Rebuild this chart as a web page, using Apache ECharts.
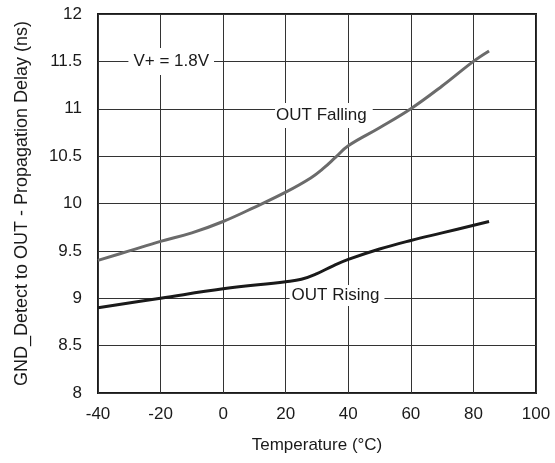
<!DOCTYPE html>
<html>
<head>
<meta charset="utf-8">
<script src="https://cdn.jsdelivr.net/npm/echarts@6/dist/echarts.min.js"></script>
<style>
html,body{margin:0;padding:0;background:#fff;}
#c{width:555px;height:463px;}
</style>
</head>
<body>
<div id="c"></div>
<script>
var fallingTemps = [-40, -30, -20, -10, 0, 10, 20, 28, 32, 36, 40, 50, 60, 70, 80, 85];
var outFalling = [9.4, 9.5, 9.6, 9.69, 9.81, 9.96, 10.12, 10.27, 10.37, 10.49, 10.61, 10.8, 11.0, 11.24, 11.5, 11.61];
var risingTemps = [-40, -20, 0, 20, 25, 30, 35, 40, 50, 60, 70, 85];
var outRising = [8.9, 9.0, 9.1, 9.175, 9.2, 9.26, 9.34, 9.41, 9.52, 9.61, 9.69, 9.81];
var xTicks = [-40, -20, 0, 20, 40, 60, 80, 100];
var yTicks = [8, 8.5, 9, 9.5, 10, 10.5, 11, 11.5, 12];
var annotations = [
  {text: 'V+ = 1.8V', x: -16.6, y: 11.5, pad: [5, 5, 5, 5]},
  {text: 'OUT Falling', x: 32.2, y: 10.93, pad: [5, 6, 3, 1]},
  {text: 'OUT Rising', x: 36.4, y: 9.03, pad: [2, 5, 2, 2]}
];

var font = 'Liberation Sans, Arial, Helvetica, sans-serif';
var chart = echarts.init(document.getElementById('c'), null, {renderer: 'canvas'});

function pairs(xs, ys){ return xs.map(function(x, i){ return [x, ys[i]]; }); }

var option = {
  animation: false,
  backgroundColor: '#fff',
  grid: {left: 98, right: 19, top: 14, bottom: 70, show: true, borderColor: '#1a1a1a', borderWidth: 2, backgroundColor: 'transparent'},
  xAxis: {
    type: 'value', min: xTicks[0], max: xTicks[xTicks.length-1], interval: 20,
    name: 'Temperature (°C)', nameLocation: 'middle', nameGap: 44,
    nameTextStyle: {fontFamily: font, fontSize: 17, color: '#1a1a1a'},
    axisLine: {show: false}, axisTick: {show: false},
    axisLabel: {fontFamily: font, fontSize: 17, color: '#1a1a1a', margin: 13},
    splitLine: {show: true, lineStyle: {color: '#333', width: 1}}
  },
  yAxis: {
    type: 'value', min: yTicks[0], max: yTicks[yTicks.length-1], interval: 0.5,
    name: 'GND_Detect to OUT - Propagation Delay (ns)', nameLocation: 'middle', nameGap: 67,
    nameTextStyle: {fontFamily: font, fontSize: 18, color: '#1a1a1a'},
    axisLine: {show: false}, axisTick: {show: false},
    axisLabel: {fontFamily: font, fontSize: 17, color: '#1a1a1a', margin: 16},
    splitLine: {show: true, lineStyle: {color: '#333', width: 1}}
  },
  series: [
    {
      name: 'OUT Falling', type: 'line', data: pairs(fallingTemps, outFalling), smooth: 0.4,
      symbol: 'none', lineStyle: {color: '#6b6b6b', width: 3}, z: 3
    },
    {
      name: 'OUT Rising', type: 'line', data: pairs(risingTemps, outRising), smooth: 0.4,
      symbol: 'none', lineStyle: {color: '#1a1a1a', width: 3}, z: 3,
      markPoint: {
        symbol: 'circle', symbolSize: 0, silent: true,
        data: annotations.map(function(a){
          return {coord: [a.x, a.y], value: a.text,
            label: {show: true, position: 'inside', formatter: a.text,
              fontFamily: font, fontSize: 17, color: '#1a1a1a',
              backgroundColor: '#fff', padding: a.pad}};
        })
      }
    }
  ]
};
chart.setOption(option);
</script>
</body>
</html>
